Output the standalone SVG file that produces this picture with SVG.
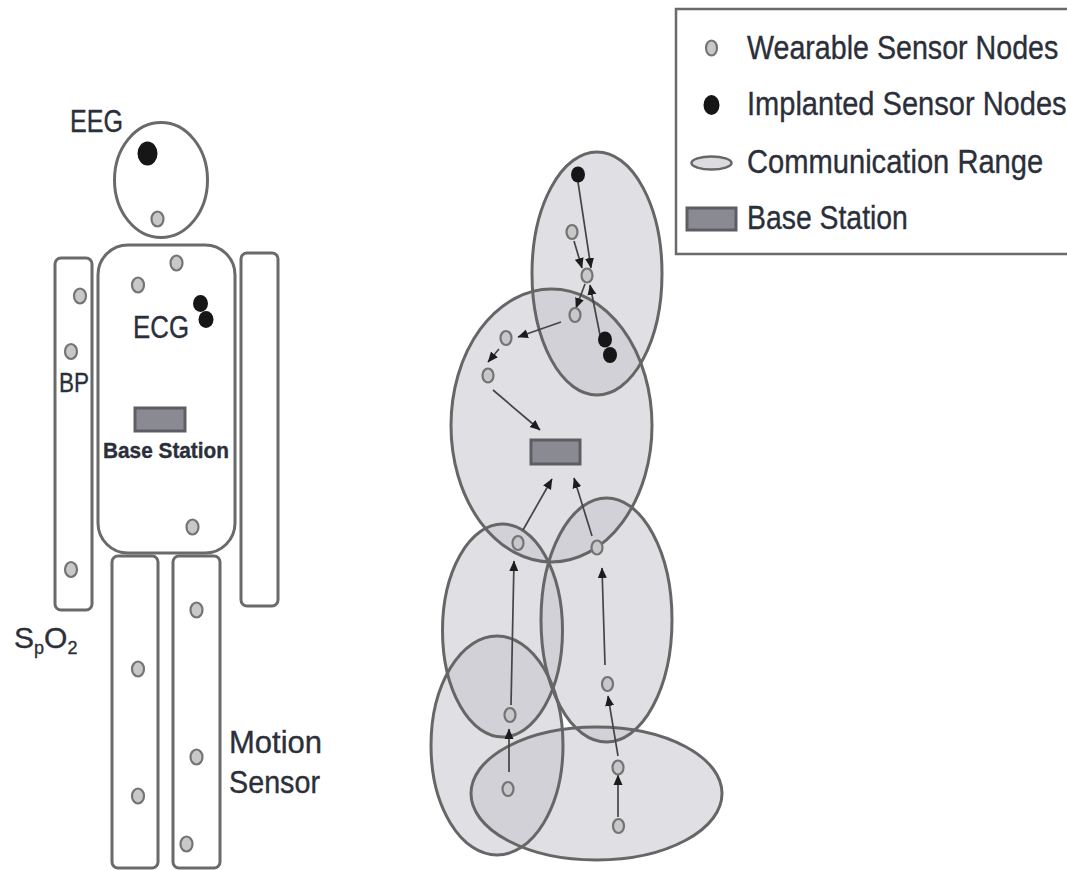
<svg xmlns="http://www.w3.org/2000/svg" width="1067" height="870" viewBox="0 0 1067 870">
<style>
text{font-family:"Liberation Sans",Arial,sans-serif;fill:#2b2f3a;stroke:#2b2f3a;stroke-width:.35}
.out{fill:#fff;stroke:#6a6a6a;stroke-width:3}
.w{fill:#c8c8ca;stroke:#747474;stroke-width:2.2}
.b{fill:#161616}
.rf{fill:#c2c2c9;fill-opacity:.5;stroke:none}
.rs{fill:none;stroke:#666;stroke-width:3}
.st{fill:#8a8a92;stroke:#5e5e62;stroke-width:3}
.c{fill:none;stroke:#454545;stroke-width:1.7;marker-end:url(#a)}
.lg{font-size:33px}
</style>
<defs>
<marker id="a" markerUnits="userSpaceOnUse" markerWidth="12" markerHeight="10" refX="10" refY="5" orient="auto"><path d="M0 .5L10.500 5L0 9.500Z" fill="#1c1c1c"/></marker>
</defs>
<rect width="1067" height="870" fill="#fff"/>
<g id="body">
<g id="head"><ellipse class="out" cx="161" cy="180" rx="46.500" ry="57.500"/></g>
<g id="torso"><rect class="out" x="98" y="245" width="137" height="308" rx="30"/></g>
<g id="arm-left"><rect class="out" x="55" y="258" width="37" height="352" rx="6"/></g>
<g id="arm-right"><rect class="out" x="241" y="253" width="37" height="353" rx="6"/></g>
<g id="leg-left"><rect class="out" x="112" y="556" width="46" height="312" rx="6"/></g>
<g id="leg-right"><rect class="out" x="173" y="556" width="47" height="312" rx="6"/></g>
</g>
<g id="body-sensors">
<ellipse class="b" cx="147.500" cy="153.500" rx="10" ry="12"/>
<ellipse class="w" cx="157.500" cy="219" rx="6" ry="7.500"/>
<ellipse class="w" cx="176.500" cy="263" rx="6" ry="7.500"/>
<ellipse class="w" cx="138" cy="285" rx="6" ry="7.500"/>
<ellipse class="b" cx="200.500" cy="303.500" rx="7.500" ry="8.500"/>
<ellipse class="b" cx="206" cy="319.500" rx="7.500" ry="8.500"/>
<ellipse class="w" cx="80" cy="296" rx="6" ry="7.500"/>
<ellipse class="w" cx="71" cy="351.500" rx="6" ry="7.500"/>
<ellipse class="w" cx="71" cy="569.500" rx="6" ry="7.500"/>
<ellipse class="w" cx="192.500" cy="527" rx="6" ry="7.500"/>
<ellipse class="w" cx="196.500" cy="610" rx="6" ry="7.500"/>
<ellipse class="w" cx="138" cy="669" rx="6" ry="7.500"/>
<ellipse class="w" cx="196.500" cy="757" rx="6" ry="7.500"/>
<ellipse class="w" cx="138" cy="796" rx="6" ry="7.500"/>
<ellipse class="w" cx="186.500" cy="844" rx="6" ry="7.500"/>
</g>
<g id="body-base-station"><rect class="st" x="135" y="408" width="50" height="23"/></g>
<g id="body-labels">
<text x="70" y="132" font-size="31" textLength="53" lengthAdjust="spacingAndGlyphs">EEG</text>
<text x="133" y="338" font-size="31" textLength="56" lengthAdjust="spacingAndGlyphs">ECG</text>
<text x="59" y="392" font-size="27" textLength="30" lengthAdjust="spacingAndGlyphs">BP</text>
<text x="103" y="458" font-size="22" font-weight="bold" textLength="126" lengthAdjust="spacingAndGlyphs">Base Station</text>
<text x="14" y="648" font-size="30">S<tspan font-size="18" dy="6">p</tspan><tspan dy="-6">O</tspan><tspan font-size="18" dy="6">2</tspan></text>
<text x="229" y="753" font-size="32" textLength="93" lengthAdjust="spacingAndGlyphs">Motion</text>
<text x="229" y="793" font-size="32" textLength="91" lengthAdjust="spacingAndGlyphs">Sensor</text>
</g>
<g id="range-fills">
<ellipse class="rf" cx="597" cy="273.500" rx="65" ry="121.500"/>
<ellipse class="rf" cx="551.500" cy="425.500" rx="100.500" ry="136.500"/>
<ellipse class="rf" cx="502.500" cy="630.500" rx="60" ry="106.500"/>
<ellipse class="rf" cx="606.500" cy="620" rx="65.500" ry="122"/>
<ellipse class="rf" cx="497" cy="745.500" rx="66" ry="109.500"/>
<ellipse class="rf" cx="596.500" cy="793.500" rx="125.500" ry="66.500"/>
</g>
<g id="range-outlines">
<ellipse class="rs" cx="597" cy="273.500" rx="65" ry="121.500"/>
<ellipse class="rs" cx="551.500" cy="425.500" rx="100.500" ry="136.500"/>
<ellipse class="rs" cx="502.500" cy="630.500" rx="60" ry="106.500"/>
<ellipse class="rs" cx="606.500" cy="620" rx="65.500" ry="122"/>
<ellipse class="rs" cx="497" cy="745.500" rx="66" ry="109.500"/>
<ellipse class="rs" cx="596.500" cy="793.500" rx="125.500" ry="66.500"/>
</g>
<g id="connectors">
<path class="c" d="M578 182L591 268"/>
<path class="c" d="M574 241L582 268"/>
<path class="c" d="M600 335L590 285"/>
<path class="c" d="M585 284L576 308"/>
<path class="c" d="M561 322L518 337"/>
<path class="c" d="M499 349L488 362"/>
<path class="c" d="M493 390L540 430"/>
<path class="c" d="M523 530L552 479"/>
<path class="c" d="M592 536L574 478"/>
<path class="c" d="M511 705L514 561"/>
<path class="c" d="M605 665L602 568"/>
<path class="c" d="M509 772L509 729"/>
<path class="c" d="M618 756L608 696"/>
<path class="c" d="M618 817L618 775"/>
</g>
<g id="network-sensors">
<ellipse class="b" cx="578" cy="174.500" rx="7" ry="8"/>
<ellipse class="w" cx="572" cy="232" rx="5.500" ry="7"/>
<ellipse class="w" cx="587" cy="275.500" rx="5.500" ry="7"/>
<ellipse class="w" cx="575" cy="315" rx="5.500" ry="7"/>
<ellipse class="w" cx="506" cy="338" rx="5.500" ry="7"/>
<ellipse class="w" cx="488" cy="375.500" rx="5.500" ry="7"/>
<ellipse class="b" cx="605" cy="339.500" rx="7" ry="8"/>
<ellipse class="b" cx="610" cy="355" rx="7" ry="8"/>
<ellipse class="w" cx="518" cy="543" rx="5.500" ry="7"/>
<ellipse class="w" cx="597" cy="547.500" rx="5.500" ry="7"/>
<ellipse class="w" cx="510" cy="715" rx="5.500" ry="7"/>
<ellipse class="w" cx="607.500" cy="684" rx="5.500" ry="7"/>
<ellipse class="w" cx="508" cy="789" rx="5.500" ry="7"/>
<ellipse class="w" cx="618" cy="767.500" rx="5.500" ry="7"/>
<ellipse class="w" cx="618.500" cy="826" rx="5.500" ry="7"/>
</g>
<g id="network-base-station"><rect class="st" x="531" y="440" width="49" height="24"/></g>
<g id="legend">
<path d="M1067 9H676V254H1067" fill="#fff" stroke="#6a6a6a" stroke-width="2.500"/>
<g id="legend-wearable"><ellipse class="w" cx="711.500" cy="48" rx="5.500" ry="7.500"/><text class="lg" transform="translate(747 59) scale(.868 1)">Wearable Sensor Nodes</text></g>
<g id="legend-implanted"><ellipse class="b" cx="711.500" cy="105" rx="8" ry="10"/><text class="lg" transform="translate(747 115) scale(.88 1)">Implanted Sensor Nodes</text></g>
<g id="legend-range"><ellipse cx="711.500" cy="163" rx="20" ry="6.500" fill="#dcdce0" stroke="#666" stroke-width="2.500"/><text class="lg" transform="translate(747 173) scale(.883 1)">Communication Range</text></g>
<g id="legend-base"><rect class="st" x="687" y="208" width="49" height="22"/><text class="lg" transform="translate(747 229) scale(.86 1)">Base Station</text></g>
</g>
</svg>
